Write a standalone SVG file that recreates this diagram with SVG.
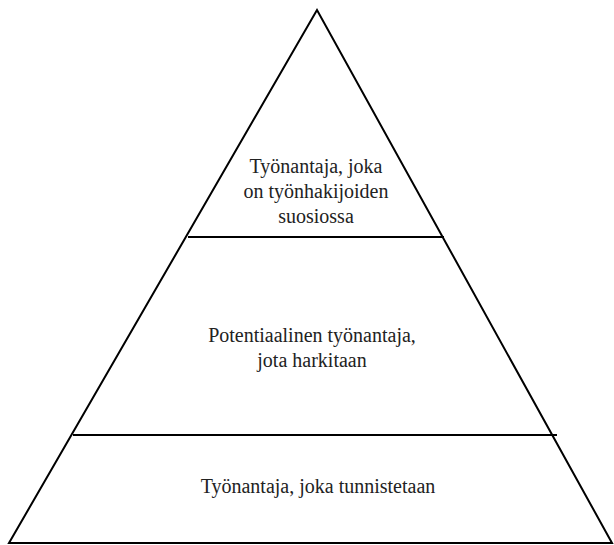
<svg xmlns="http://www.w3.org/2000/svg" width="614" height="545" viewBox="0 0 614 545">
<style>
.l{stroke:#000;stroke-width:2;fill:none}
</style>
<rect width="614" height="545" fill="#fff"/>
<g id="connectors">
<polygon class="l" points="317,10 9,543 612,543"/>
<line class="l" x1="188" y1="237" x2="444" y2="237"/>
<line class="l" x1="73" y1="435" x2="557" y2="435"/>
</g>
<g id="top">
<text x="316" y="173" font-family="Liberation Serif, serif" font-size="20" fill="#222" text-anchor="middle">Työnantaja, joka</text>
<text x="316" y="198" font-family="Liberation Serif, serif" font-size="20" fill="#222" text-anchor="middle">on työnhakijoiden</text>
<text x="316" y="223" font-family="Liberation Serif, serif" font-size="20" fill="#222" text-anchor="middle">suosiossa</text>
</g>
<g id="middle">
<text x="312" y="342" font-family="Liberation Serif, serif" font-size="20" fill="#222" text-anchor="middle">Potentiaalinen työnantaja,</text>
<text x="312" y="367" font-family="Liberation Serif, serif" font-size="20" fill="#222" text-anchor="middle">jota harkitaan</text>
</g>
<g id="bottom">
<text x="318" y="493" font-family="Liberation Serif, serif" font-size="20" fill="#222" text-anchor="middle">Työnantaja, joka tunnistetaan</text>
</g>
</svg>
